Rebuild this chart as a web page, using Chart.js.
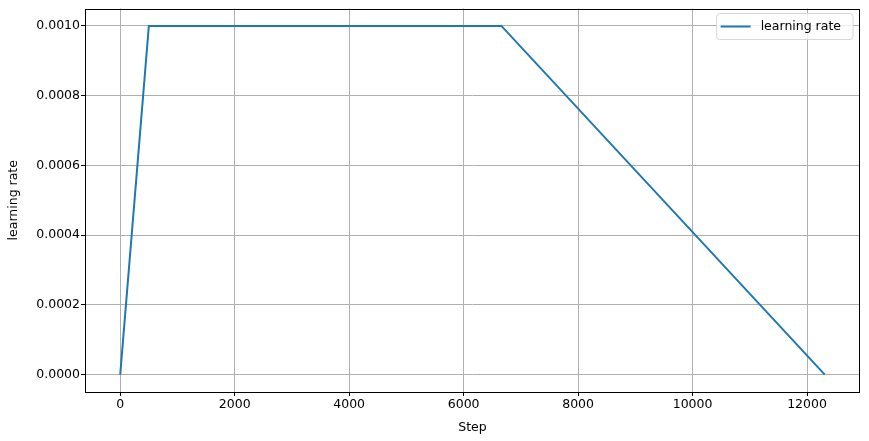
<!DOCTYPE html>
<html>
<head>
<meta charset="utf-8">
<script src="https://cdn.jsdelivr.net/npm/chart.js@4.4.1/dist/chart.umd.min.js"></script>
<style>
  html, body { margin: 0; padding: 0; background: #fff; }
  #wrap { width: 869px; height: 441px; }
</style>
</head>
<body>
<div id="wrap"><canvas id="lrChart" width="869" height="441"></canvas></div>
<script>
// schedule: linear warmup, flat, then linear decay
const steps = [0, 500, 6660, 12310];
const lrValues = [0.0, 0.001, 0.001, 0.0];
const xTicks = [0, 2000, 4000, 6000, 8000, 10000, 12000];
const yTicks = [0.0, 0.0002, 0.0004, 0.0006, 0.0008, 0.001];

const FONT = 'DejaVu Sans';
const FS = 12.5;

const xPad = (steps[steps.length - 1] - steps[0]) * 0.05;
const yPad = (0.001 - 0) * 0.05;

// frame around the plot + legend box in upper right
const framePlugin = {
    id: 'frame',
    afterDraw(chart) {
        const ctx = chart.ctx;
        const a = chart.chartArea;
        ctx.save();
        ctx.strokeStyle = '#000';
        ctx.lineWidth = 1;
        ctx.strokeRect(Math.round(a.left) + 0.5, Math.round(a.top) + 0.5,
            Math.round(a.right - a.left) - 1, Math.round(a.bottom - a.top) - 1);

        // legend
        const ds = chart.data.datasets[0];
        ctx.font = FS + 'px ' + FONT;
        const tw = ctx.measureText(ds.label).width;
        const bw = tw + 56, bh = 26;
        const bx = a.right - 7 - bw, by = a.top + 5;
        ctx.beginPath();
        const r = 3;
        ctx.moveTo(bx + r, by);
        ctx.arcTo(bx + bw, by, bx + bw, by + bh, r);
        ctx.arcTo(bx + bw, by + bh, bx, by + bh, r);
        ctx.arcTo(bx, by + bh, bx, by, r);
        ctx.arcTo(bx, by, bx + bw, by, r);
        ctx.closePath();
        ctx.fillStyle = 'rgba(255,255,255,0.8)';
        ctx.fill();
        ctx.strokeStyle = '#d6d6d6';
        ctx.stroke();
        ctx.beginPath();
        ctx.moveTo(bx + 4, by + 13);
        ctx.lineTo(bx + 34, by + 13);
        ctx.strokeStyle = ds.borderColor;
        ctx.lineWidth = 2;
        ctx.stroke();
        ctx.fillStyle = '#000';
        ctx.textBaseline = 'middle';
        ctx.fillText(ds.label, bx + 44, by + 13);
        ctx.restore();
    }
};

const ctx = document.getElementById('lrChart').getContext('2d');
new Chart(ctx, {
    type: 'scatter',
    data: {
        datasets: [{
            label: 'learning rate',
            data: steps.map((s, i) => ({ x: s, y: lrValues[i] })),
            showLine: true,
            borderColor: '#1f77b4',
            borderWidth: 2,
            pointRadius: 0,
            fill: false
        }]
    },
    options: {
        responsive: false,
        animation: false,
        layout: { padding: { left: 0, right: 9, top: 3, bottom: 0 } },
        plugins: {
            legend: { display: false },
            tooltip: { enabled: false }
        },
        scales: {
            x: {
                type: 'linear',
                min: steps[0] - xPad,
                max: steps[steps.length - 1] + xPad,
                afterBuildTicks(scale) { scale.ticks = xTicks.map(v => ({ value: v })); },
                afterFit(scale) { scale.height = 49; },
                grid: { color: '#b0b0b0', lineWidth: 1, tickColor: '#000', tickLength: 4 },
                border: { display: false },
                ticks: {
                    color: '#000', padding: 1,
                    font: { family: FONT, size: FS },
                    callback: v => String(v)
                },
                title: {
                    display: true, text: 'Step', color: '#000',
                    font: { family: FONT, size: FS }, padding: { top: 0, bottom: 6 }
                }
            },
            y: {
                type: 'linear',
                min: 0 - yPad,
                max: 0.001 + yPad,
                afterBuildTicks(scale) { scale.ticks = yTicks.map(v => ({ value: v })); },
                afterFit(scale) { scale.width = 85; },
                grid: { color: '#b0b0b0', lineWidth: 1, tickColor: '#000', tickLength: 4 },
                border: { display: false },
                ticks: {
                    color: '#000', padding: 1,
                    font: { family: FONT, size: FS },
                    callback: v => Number(v).toFixed(4)
                },
                title: {
                    display: true, text: 'learning rate', color: '#000',
                    font: { family: FONT, size: FS }, padding: { top: 6, bottom: 0 }
                }
            }
        }
    },
    plugins: [framePlugin]
});
</script>
</body>
</html>
